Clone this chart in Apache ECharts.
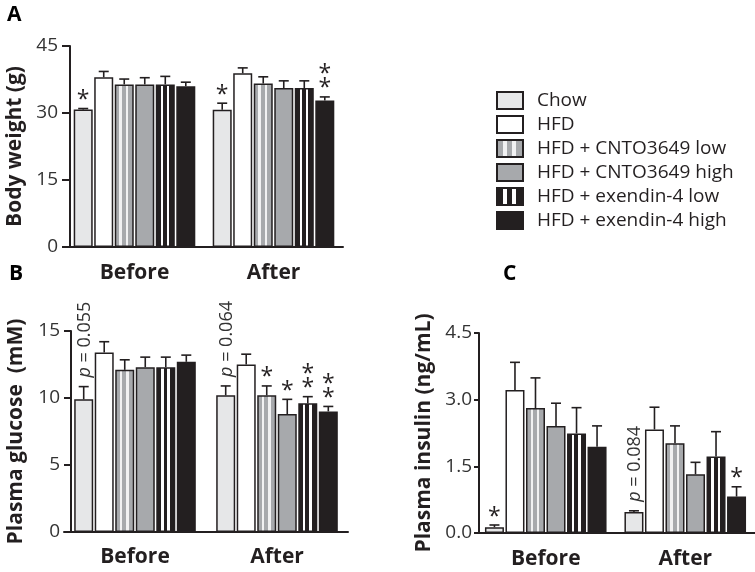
<!DOCTYPE html>
<html><head><meta charset="utf-8">
<script src="https://cdn.jsdelivr.net/npm/echarts@6/dist/echarts.min.js"></script>
<style>html,body{margin:0;padding:0;background:#fff}#c{width:755px;height:572px}</style>
</head><body><div id="c"></div>
<script>
// ---- data ----
const groups = ['Chow', 'HFD', 'HFD + CNTO3649 low', 'HFD + CNTO3649 high', 'HFD + exendin-4 low', 'HFD + exendin-4 high'];
const periods = ['Before', 'After'];

// per group: [Before, After]
const weightMean = [[30.8, 30.7], [38.0, 38.9], [36.4, 36.6], [36.4, 35.6], [36.4, 35.6], [36.0, 32.8]];
const weightSem  = [[0.2, 1.5], [1.3, 1.2], [1.2, 1.5], [1.5, 1.6], [1.8, 1.6], [0.9, 0.8]];
const weightMarks = [['*', '*'], ['', ''], ['', ''], ['', ''], ['', ''], ['', '**']];

const glucoseMean = [[9.9, 10.2], [13.4, 12.5], [12.1, 10.2], [12.3, 8.8], [12.3, 9.6], [12.7, 9.0]];
const glucoseSem  = [[0.95, 0.7], [0.8, 0.77], [0.75, 0.7], [0.75, 1.1], [0.75, 0.5], [0.5, 0.37]];
const glucoseMarks = [['p = 0.055', 'p = 0.064'], ['', ''], ['', '*'], ['', '*'], ['', '**'], ['', '**']];

const insulinMean = [[0.13, 0.47], [3.22, 2.33], [2.81, 2.02], [2.41, 1.32], [2.24, 1.72], [1.94, 0.82]];
const insulinSem  = [[0.05, 0.03], [0.62, 0.5], [0.68, 0.39], [0.51, 0.27], [0.58, 0.56], [0.47, 0.22]];
const insulinMarks = [['*', 'p = 0.084'], ['', ''], ['', ''], ['', ''], ['', ''], ['', '*']];

const yTitles = ['Body weight (g)', 'Plasma glucose  (mM)', 'Plasma insulin (ng/mL)'];
const yMax = [45, 15, 4.5];
const yStep = [15, 5, 1.5];
const yDecimals = [0, 0, 1];
const panelLetters = ['A', 'B', 'C'];

// ---- style ----
const FONT = "'Open Sans', sans-serif";
const INK = '#231f20';
const BAR_W = 19, BAR_GAP = 0.08;

function stripes(base, light) {
  return { type: 'linear', x: 0, y: 0, x2: 1, y2: 0, colorStops: [
    { offset: 0, color: base }, { offset: 0.25, color: base },
    { offset: 0.25, color: light }, { offset: 0.38, color: light },
    { offset: 0.38, color: base }, { offset: 0.58, color: base },
    { offset: 0.58, color: light }, { offset: 0.71, color: light },
    { offset: 0.71, color: base }, { offset: 1, color: base }
  ] };
}
const fills = ['#e6e7e8', '#ffffff', stripes('#a7a9ac', '#f1f1f2'), '#a7a9ac', stripes(INK, '#ffffff'), INK];

const panels = [
  { mean: weightMean, sem: weightSem, marks: weightMarks },
  { mean: glucoseMean, sem: glucoseSem, marks: glucoseMarks },
  { mean: insulinMean, sem: insulinSem, marks: insulinMarks }
];

const grids = [
  { left: 65, top: 46, width: 278, height: 201 },
  { left: 64, top: 331, width: 284, height: 201 },
  { left: 476, top: 333, width: 279, height: 200 }
];
const yOffsets = [-5, -7, -3];
const tickLen = [8, 7, 5];
const labelMargin = [12, 11, 7];
const catMargin = [16, 15, 16];

const chart = echarts.init(document.getElementById('c'), null, { renderer: 'canvas' });

const xAxes = grids.map((g, p) => ({
  type: 'category', gridIndex: p, data: periods,
  axisLine: { lineStyle: { color: INK, width: 2 } },
  axisTick: { show: false },
  axisLabel: { fontFamily: FONT, fontSize: 21, fontWeight: 'bold', color: INK, margin: catMargin[p] }
}));
const yAxes = grids.map((g, p) => ({
  type: 'value', gridIndex: p, min: 0, max: yMax[p], interval: yStep[p], offset: yOffsets[p],
  name: yTitles[p], nameLocation: 'middle', nameGap: 44, nameRotate: 90,
  nameTextStyle: { fontFamily: FONT, fontSize: 21, fontWeight: 'bold', color: INK },
  splitLine: { show: false },
  axisLine: { show: true, lineStyle: { color: INK, width: 2 } },
  axisTick: { show: true, length: tickLen[p], lineStyle: { color: INK, width: 2 } },
  axisLabel: { fontFamily: FONT, fontSize: 19, fontWeight: 'normal', color: '#333', margin: labelMargin[p],
    formatter: v => v.toFixed(yDecimals[p]) }
}));

const series = [];
panels.forEach((pd, p) => {
  groups.forEach((name, gi) => {
    series.push({
      type: 'bar', name, xAxisIndex: p, yAxisIndex: p,
      barWidth: BAR_W, barGap: (BAR_GAP * 100) + '%',
      data: periods.map((_, k) => pd.mean[gi][k]),
      itemStyle: { color: fills[gi], borderColor: INK, borderWidth: 1.5 },
      silent: true
    });
  });
  const errData = [];
  groups.forEach((_, gi) => periods.forEach((_, k) => errData.push([k, gi, pd.mean[gi][k], pd.sem[gi][k]])));
  series.push({
    type: 'custom', xAxisIndex: p, yAxisIndex: p, silent: true, z: 5,
    data: errData,
    renderItem: (params, api) => {
      const cat = api.value(0), gi = api.value(1), mean = api.value(2), sem = api.value(3);
      const center = api.coord([cat, 0])[0];
      const total = 6 * BAR_W + 5 * BAR_W * BAR_GAP;
      const x = center - total / 2 + gi * BAR_W * (1 + BAR_GAP) + BAR_W / 2;
      const yTop = api.coord([cat, mean])[1];
      const yCap = api.coord([cat, mean + sem])[1];
      const ch = [
        { type: 'line', shape: { x1: x, y1: yTop, x2: x, y2: yCap }, style: { stroke: INK, lineWidth: 1.6 } },
        { type: 'line', shape: { x1: x - 5, y1: yCap, x2: x + 5, y2: yCap }, style: { stroke: INK, lineWidth: 1.6 } }
      ];
      const m = pd.marks[gi][cat];
      if (m && m[0] === 'p') {
        ch.push({ type: 'text', x: x + 1, y: yCap - 9, rotation: Math.PI / 2,
          style: { text: '{i|p}' + m.slice(1), rich: { i: { fontStyle: 'italic', fontFamily: FONT, fontSize: 18, fontWeight: 'normal', fill: '#333' } },
            fontFamily: FONT, fontSize: 18, fontWeight: 'normal', fill: '#333', align: 'left', verticalAlign: 'middle' } });
      } else if (m) {
        for (let s = 0; s < m.length; s++) {
          ch.push({ type: 'text', x: x, y: yCap - 15 - s * 14 + 7,
            style: { text: '*', fontFamily: FONT, fontSize: 23, fontWeight: 'normal', fill: INK, align: 'center', verticalAlign: 'middle' } });
        }
      }
      return { type: 'group', children: ch };
    }
  });
});

chart.setOption({
  animation: false,
  backgroundColor: '#fff',
  grid: grids,
  xAxis: xAxes,
  yAxis: yAxes,
  legend: {
    data: groups, orient: 'vertical', left: 496, top: 91, padding: 0,
    itemWidth: 26, itemHeight: 17, itemGap: 5, icon: 'rect', selectedMode: false,
    itemStyle: { borderColor: INK, borderWidth: 2 },
    textStyle: { fontFamily: FONT, fontSize: 19, color: INK, padding: [0, 0, 0, 9] }
  },
  graphic: [
    { type: 'text', left: 7, top: 5, style: { text: panelLetters[0], fontFamily: FONT, fontSize: 21, fontWeight: 'bold', fill: '#000' } },
    { type: 'text', left: 9, top: 264, style: { text: panelLetters[1], fontFamily: FONT, fontSize: 21, fontWeight: 'bold', fill: '#000' } },
    { type: 'text', left: 503, top: 264, style: { text: panelLetters[2], fontFamily: FONT, fontSize: 21, fontWeight: 'bold', fill: '#000' } }
  ],
  series
});
</script></body></html>
